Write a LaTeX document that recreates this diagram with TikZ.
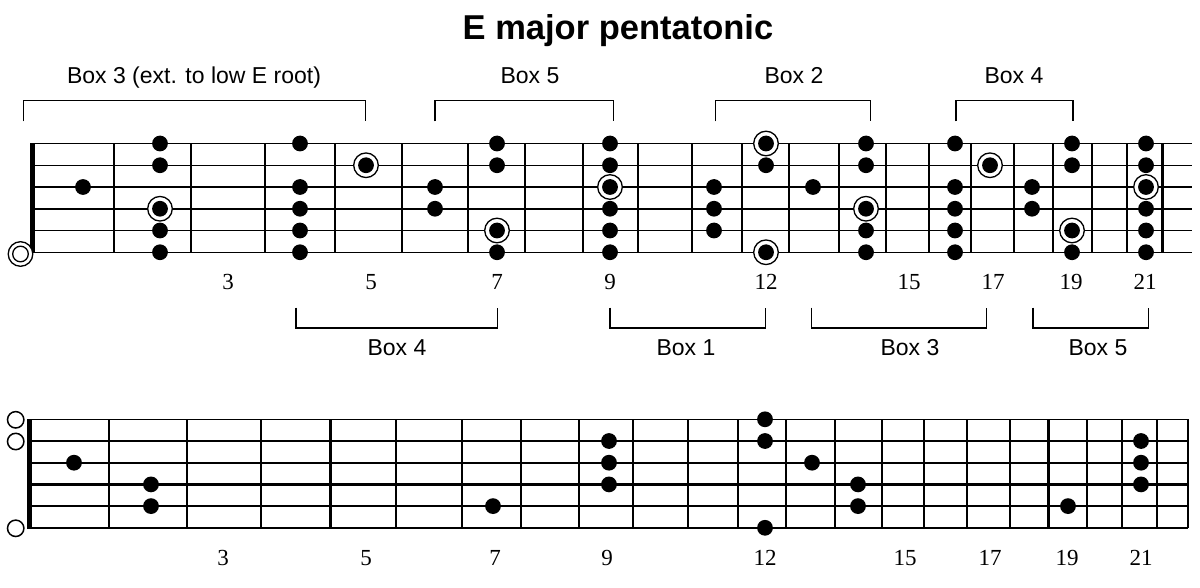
\documentclass[tikz,border=0pt]{standalone}
\usepackage{fontspec}
\setmainfont{Liberation Sans}
\newfontfamily\numfont{Liberation Serif}
\begin{document}
\begin{tikzpicture}[x=1pt,y=-1pt,
  dotfill/.style={fill=black},
  ringline/.style={draw=black,line width=1.3pt,fill=white},
  fretline/.style={line width=2pt},
  bracketline/.style={line width=1.3pt},
  boxlabel/.style={anchor=base,inner sep=0pt,font=\fontsize{23}{27}\selectfont},
  fretnum/.style={anchor=base,inner sep=0pt,font=\numfont\fontsize{23}{27}\selectfont},
  titletext/.style={anchor=base,inner sep=0pt,font=\bfseries\fontsize{34.5}{40}\selectfont}]
\useasboundingbox (0,0) rectangle (1200,588);

% ---------------- title ----------------
\node[titletext] (title) at (618,39.3) {E major pentatonic};

% ---------------- top fretboard ----------------
\foreach \i/\w in {0/1.3,1/1.3,2/2.4,3/2.4,4/1.3,5/1.3}
  \draw[line width=\w pt] (32,{143.5+21.75*\i}) -- (1192,{143.5+21.75*\i});
\foreach \x in {114.3,190.7,265,335,401.5,467.7,525,583,637.7,692.3,742.3,789,839.3,886,929.3,971,1014.3,1053.3,1092,1127.3}
  \draw[fretline] (\x,143.5) -- (\x,252.25);
\draw[line width=3pt] (1162.7,143.5) -- (1162.7,252.25);
\fill (30.2,142.8) rectangle (35.2,252.9);

% plain dots
\foreach \x/\ss in {83/{3},160/{1,2,5,6},300/{1,3,4,5,6},435/{3,4},497/{1,2,6},610/{1,2,4,5,6},714/{3,4,5},766/{2},813/{3},866/{1,2,5,6},955/{1,3,4,5,6},1032/{3,4},1072/{1,2,6},1146/{1,2,4,5,6}}
  \foreach \s in \ss
    \fill[dotfill] (\x,{143.5+21.75*(\s-1)}) circle (7.9);
% roots
\foreach \x/\s in {160/4,366/2,497/5,610/3,766/1,766/6,866/4,990/2,1072/5,1146/3}
{
  \draw[ringline] (\x,{143.5+21.75*(\s-1)}) circle (12.3);
  \fill[dotfill] (\x,{143.5+21.75*(\s-1)}) circle (7.9);
}
% open root
\draw[ringline] (20.5,254) circle (12.3);
\draw[line width=1.3pt] (20.5,254) circle (7.8);

% fret numbers top
\foreach \x/\n in {228/3,371/5,497/7,610/9,766/12,909/15,993/17,1071/19,1145/21}
  \node[fretnum] (tn\n) at (\x,290) {\n};

% top brackets
\draw[bracketline] (23.5,121.5) -- (23.5,100.5) -- (365.5,100.5) -- (365.5,121.5);
\node[boxlabel] (tb3) at (194,83.4) {Box 3 (ext. to low E root)};
\draw[bracketline] (435,121.5) -- (435,100.5) -- (613.5,100.5) -- (613.5,121.5);
\node[boxlabel] (tb5) at (530,83.4) {Box 5};
\draw[bracketline] (715.5,121.5) -- (715.5,100.5) -- (870.5,100.5) -- (870.5,121.5);
\node[boxlabel] (tb2) at (794,83.4) {Box 2};
\draw[bracketline] (956,121.5) -- (956,100.5) -- (1073,100.5) -- (1073,121.5);
\node[boxlabel] (tb4) at (1014,83.4) {Box 4};

% bottom brackets (under top board)
\draw[bracketline] (296,307.7) -- (296,328) -- (497.5,328) -- (497.5,307.7);
\node[boxlabel] (bb4) at (397,355.7) {Box 4};
\draw[bracketline] (610,307.7) -- (610,328) -- (765.5,328) -- (765.5,307.7);
\node[boxlabel] (bb1) at (686,355.7) {Box 1};
\draw[bracketline] (811.5,307.7) -- (811.5,328) -- (986.5,328) -- (986.5,307.7);
\node[boxlabel] (bb3) at (910,355.7) {Box 3};
\draw[bracketline] (1033,307.7) -- (1033,328) -- (1148.5,328) -- (1148.5,307.7);
\node[boxlabel] (bb5) at (1098,355.7) {Box 5};

% ---------------- bottom fretboard ----------------
\foreach \i/\w in {0/1.6,1/2.3,2/2.3,3/2.3,4/2.3,5/2.3}
  \draw[line width=\w pt] (29,{419.3+21.7*\i}) -- (1188.3,{419.3+21.7*\i});
\foreach \x in {109,186.7,261,396,462.3,520.7,579.3,632.7,688.3,738.3,785.7,835,881.7,924,967.3,1010,1086.7,1122.3,1157.3,1188.3}
  \draw[fretline] (\x,419.3) -- (\x,527.8);
\foreach \x in {330.7,1048.3}
  \draw[line width=3pt] (\x,419.3) -- (\x,527.8);
\fill (26.8,418.6) rectangle (31.8,528.9);

\foreach \x/\ss in {74/{3},151/{4,5},493/{5},609/{2,3,4},765/{1,2,6},812/{3},858/{4,5},1068/{5},1141/{2,3,4}}
  \foreach \s in \ss
    \fill[dotfill] (\x,{419.3+21.7*(\s-1)}) circle (7.9);

% open strings
\foreach \s in {1,2,6}
  \draw[line width=1.5pt,fill=white] (15.7,{419.8+21.7*(\s-1)}) circle (8.2);

% fret numbers bottom
\foreach \x/\n in {223/3,366/5,495/7,607/9,765/12,905/15,990/17,1067/19,1141/21}
  \node[fretnum] (bn\n) at (\x,565.7) {\n};
\end{tikzpicture}
\end{document}
